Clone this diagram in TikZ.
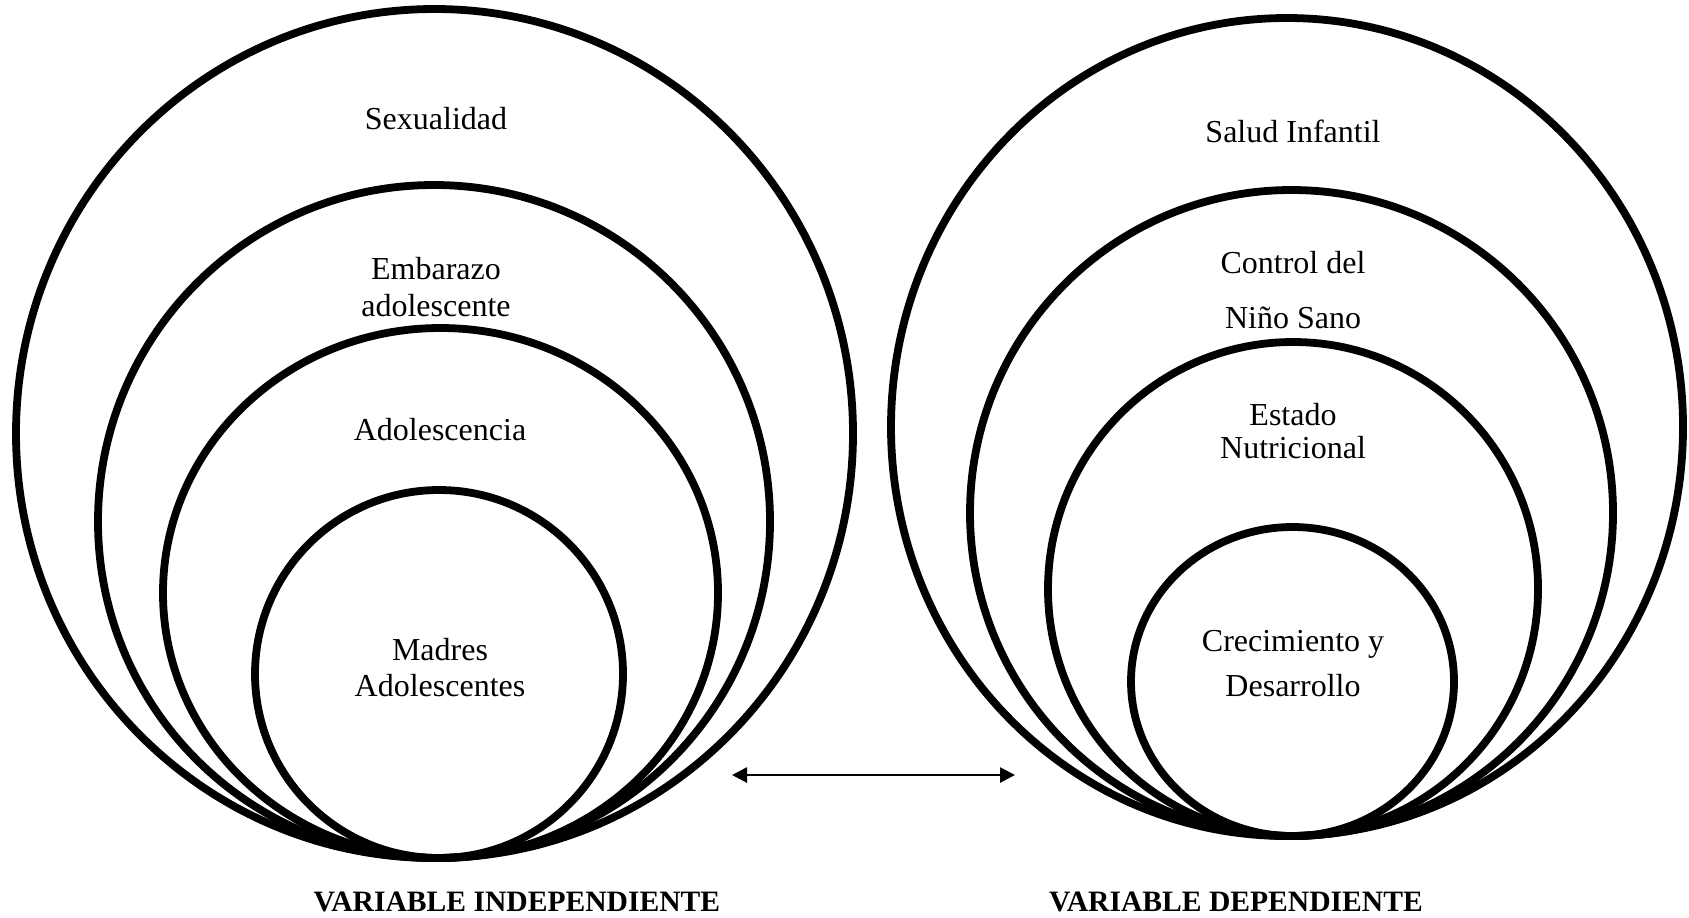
\documentclass[tikz,border=0pt]{standalone}
\usepackage{fontspec}
\setmainfont{Liberation Serif}
\usepackage{tikz}
\usetikzlibrary{arrows.meta}

\begin{document}
\begin{tikzpicture}[x=0.5pt, y=-0.5pt,
  ring/.style={black, line width=3.9pt},
  lbl/.style={align=center, inner sep=0pt, font=\fontsize{16}{17.5}\selectfont},
  varlbl/.style={inner sep=0pt, font=\fontsize{14.8}{16}\selectfont\bfseries}]
\useasboundingbox (0,0) rectangle (1689,917);

\coordinate (sex) at (434.5,433.5);
\coordinate (emb) at (434,521.5);
\coordinate (ado) at (440.5,593);
\coordinate (mad) at (439,674);

\coordinate (sal) at (1287,427);
\coordinate (con) at (1291.5,513);
\coordinate (est) at (1293,589);
\coordinate (cre) at (1292.5,681.5);

\draw[ring] (sex) ellipse [x radius=418.5, y radius=424.5];
\draw[ring] (emb) ellipse [x radius=336, y radius=336.5];
\draw[ring] (ado) ellipse [x radius=277.5, y radius=265];
\draw[ring] (mad) ellipse [x radius=184, y radius=184];

\draw[ring] (sal) ellipse [x radius=396, y radius=409];
\draw[ring] (con) ellipse [x radius=321.5, y radius=323];
\draw[ring] (est) ellipse [x radius=245, y radius=247];
\draw[ring] (cre) ellipse [x radius=161.5, y radius=154.5];

\node[lbl] (sex_l) at (436,119) {Sexualidad};
\node[lbl] (emb_l) at (436,287.5) {Embarazo\\[1pt]adolescente};
\node[lbl] (ado_l) at (440,430) {Adolescencia};
\node[lbl] (mad_l) at (440,668) {Madres\\[0.5pt]Adolescentes};

\node[lbl] (sal_l) at (1293,131) {Salud Infantil};
\node[lbl] (con_l) at (1293,290.5) {Control del\\[10pt]Niño Sano};
\node[lbl] (est_l) at (1293,431) {Estado\\[-1pt]Nutricional};
\node[lbl] (cre_l) at (1293,663.5) {Crecimiento y\\[5pt]Desarrollo};

\coordinate (arr_l) at (732,775);
\coordinate (arr_r) at (1015,775);
\draw[line width=1.35pt, {Triangle[length=7.5pt,width=7.5pt]}-{Triangle[length=7.5pt,width=7.5pt]}] (arr_l)--(arr_r);

\node[varlbl] (indep) at (517,902) {VARIABLE INDEPENDIENTE};
\node[varlbl] (dep) at (1236,902) {VARIABLE DEPENDIENTE};
\end{tikzpicture}
\end{document}
